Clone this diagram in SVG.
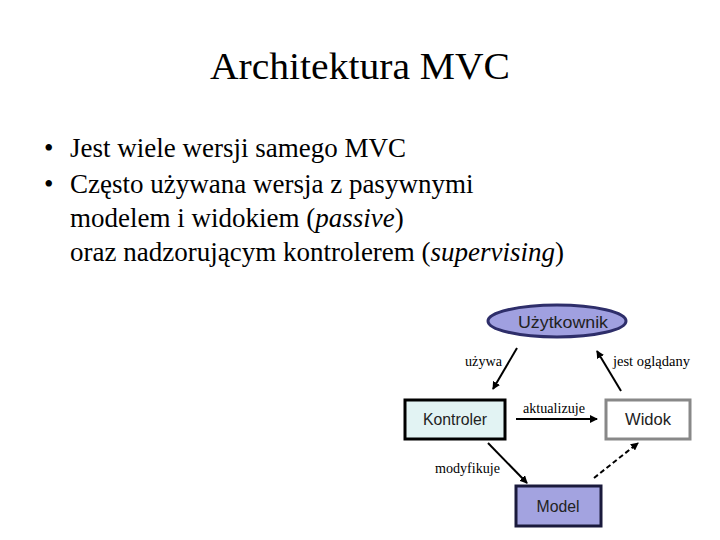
<svg xmlns="http://www.w3.org/2000/svg" width="720" height="540" viewBox="0 0 720 540">
<style>
.serif{font-family:"Liberation Serif","Times New Roman",serif;fill:#000}
.body{font-family:"Liberation Serif","Times New Roman",serif;fill:#000;font-size:27px}
.sans{font-family:"Liberation Sans",Arial,sans-serif;fill:#222;font-size:16px;text-anchor:middle}
.lbl{font-family:"Liberation Serif","Times New Roman",serif;font-size:14px;fill:#000}
.conn{stroke:#000;stroke-width:2;fill:none}
</style>
<defs>
<marker id="ah" markerWidth="8" markerHeight="8" refX="7" refY="4" orient="auto" markerUnits="userSpaceOnUse">
<path d="M0,0 L8,4 L0,8 Z" fill="#000"/>
</marker>
</defs>
<rect width="720" height="540" fill="#fff"/>
<text class="serif" x="360" y="79" font-size="38" text-anchor="middle" textLength="300" lengthAdjust="spacingAndGlyphs">Architektura MVC</text>
<text class="body" x="44" y="157">•</text>
<text class="body" x="70" y="157">Jest wiele wersji samego MVC</text>
<text class="body" x="44" y="193">•</text>
<text class="body" x="70" y="193">Często używana wersja z pasywnymi</text>
<text class="body" x="70" y="227">modelem i widokiem (<tspan font-style="italic">passive</tspan>)</text>
<text class="body" x="70" y="261">oraz nadzorującym kontrolerem (<tspan font-style="italic">supervising</tspan>)</text>
<g id="connectors">
<line class="conn" x1="517" y1="348" x2="493" y2="389" marker-end="url(#ah)"/>
<line class="conn" x1="621" y1="391" x2="597" y2="351" marker-end="url(#ah)"/>
<line class="conn" x1="516" y1="419" x2="597" y2="419" marker-end="url(#ah)"/>
<line class="conn" x1="488" y1="443" x2="527" y2="483" marker-end="url(#ah)"/>
<line class="conn" x1="594" y1="478" x2="638" y2="443" stroke-dasharray="5,3" marker-end="url(#ah)"/>
<text class="lbl" x="465" y="366" textLength="37" lengthAdjust="spacingAndGlyphs">używa</text>
<text class="lbl" x="613" y="366" textLength="77" lengthAdjust="spacingAndGlyphs">jest oglądany</text>
<text class="lbl" x="523" y="413" textLength="62" lengthAdjust="spacingAndGlyphs">aktualizuje</text>
<text class="lbl" x="435" y="473" textLength="65" lengthAdjust="spacingAndGlyphs">modyfikuje</text>
</g>
<g id="uzytkownik">
<ellipse cx="557" cy="321" rx="69" ry="16" fill="#a0a0e0" stroke="#2e2e6a" stroke-width="3"/>
<text class="sans" x="563" y="328" textLength="90" lengthAdjust="spacingAndGlyphs">Użytkownik</text>
</g>
<g id="kontroler">
<rect x="405" y="400" width="100" height="39" fill="#e2f3f3" stroke="#000" stroke-width="3"/>
<text class="sans" x="455" y="425" textLength="64" lengthAdjust="spacingAndGlyphs">Kontroler</text>
</g>
<g id="widok">
<rect x="606" y="400" width="84" height="39" fill="#fff" stroke="#888" stroke-width="3"/>
<text class="sans" x="648" y="425" textLength="46" lengthAdjust="spacingAndGlyphs">Widok</text>
</g>
<g id="model">
<rect x="516" y="486" width="85" height="40" fill="#a3a3e0" stroke="#1a1a3c" stroke-width="3"/>
<text class="sans" x="558" y="512" textLength="43" lengthAdjust="spacingAndGlyphs">Model</text>
</g>
</svg>
